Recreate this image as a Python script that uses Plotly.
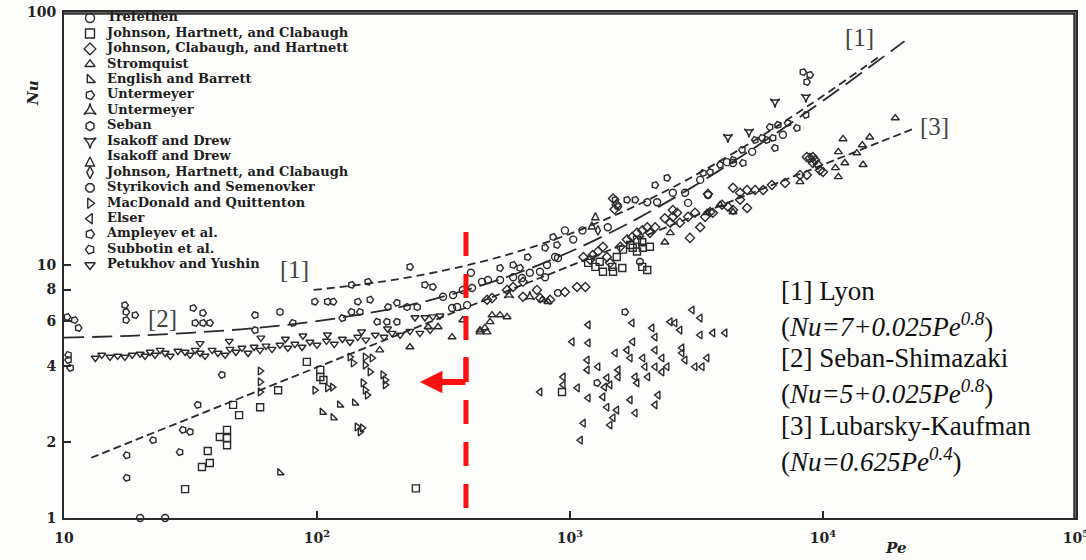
import math
import plotly.graph_objects as go

# ---------------- data (Pe, Nu) ----------------
TREFETHEN_PE = [20.0, 25.1, 358, 342, 392, 406, 449, 474, 529, 596, 646, 694, 761, 811, 797, 873, 896, 955,
                1030, 1120, 1410, 2020, 2210, 2550, 2850, 2930, 3270, 3510, 4170, 4410, 5250, 315, 345, 377, 410, 6940]
TREFETHEN_NU = [1.0, 1.0, 6.82, 6.76, 6.94, 9.32, 8.58, 8.73, 8.73, 8.95, 8.88, 9.32, 9.40, 10.0, 8.95, 10.75, 10.66, 13.7,
                12.6, 13.7, 14.1, 17.7, 17.7, 19.3, 19.3, 17.6, 21.7, 18.9, 25.5, 25.3, 28.0, 7.49, 7.61, 7.97, 8.11, 32.7]

JHC_PE = [30.1, 37.0, 35.1, 37.7, 41.3, 44.1, 44.1, 44.1, 46.6, 49.2, 59.6, 70.2, 103, 246, 91.2, 103, 106, 1180,
          1260, 1310, 1350, 1480, 1470, 1530, 1610, 1840, 1930, 2020, 1940, 2070, 1930, 1840, 1730, 1620, 1770, 930]
JHC_NU = [1.30, 1.84, 1.59, 1.65, 2.09, 2.23, 2.07, 1.94, 2.80, 2.55, 2.74, 3.20, 3.61, 1.31, 4.14, 3.85, 3.51, 10.2,
          9.83, 10.3, 9.40, 9.40, 9.83, 10.75, 9.73, 11.3, 9.83, 9.55, 11.7, 11.8, 12.3, 12.6, 12.0, 11.5, 11.7, 3.15]

JCH_PE = [1230, 1290, 1350, 1200, 1130, 1400, 1440, 1580, 1680, 1760, 1840, 1930, 2020, 2070, 2170, 2370, 2490, 2550,
          2650, 2720, 2550, 2930, 3120, 3420, 3580, 3670, 3990, 4210, 4410, 4700, 5010, 2980, 3270, 3510, 4410, 4700,
          5010, 5390, 5800, 6280, 7080, 8110, 8630, 8880, 9300, 8630, 9120, 9120, 9550, 9730, 10000, 470, 492, 596,
          652, 564, 652, 740, 834, 762, 955, 1066, 1150, 1480, 1530, 1500]
JCH_NU = [10.95, 11.3, 11.8, 10.5, 10.75, 10.75, 10.2, 11.8, 12.6, 12.9, 13.4, 13.7, 14.1, 13.4, 14.1, 15.3, 14.7, 15.5,
          16.1, 14.7, 16.5, 15.5, 16.1, 15.5, 16.2, 16.1, 17.3, 17.0, 16.5, 18.1, 16.8, 12.8, 14.1, 19.1, 20.2, 19.3,
          19.8, 19.8, 19.8, 20.7, 21.1, 22.7, 22.7, 26.5, 26.0, 26.7, 26.7, 25.3, 24.9, 23.7, 23.3, 7.29, 7.40, 8.19,
          8.58, 7.97, 7.49, 7.97, 7.29, 7.40, 7.82, 8.19, 8.19, 18.3, 17.3, 16.6]

STROMQUIST_PE = [233, 342, 377, 177, 301, 275, 441, 461, 483, 492, 819, 776, 529, 564, 441, 470, 2370, 2490, 12000,
                 11500, 11200, 12200, 11500, 13600, 14300, 15300, 14400, 19300, 8110, 4410, 3920, 3480]
STROMQUIST_NU = [4.74, 5.19, 6.06, 4.61, 5.69, 5.69, 5.53, 5.64, 5.96, 6.34, 7.16, 7.29, 6.34, 6.23, 5.43, 5.43, 12.3,
                 13.4, 31.5, 28.0, 24.2, 25.3, 22.3, 27.7, 29.8, 32.0, 24.9, 38.1, 21.3, 16.2, 17.3, 16.1]

ENGLISH_PE = [71.4, 141, 123, 105, 116]
ENGLISH_NU = [1.51, 2.85, 2.80, 2.62, 2.49]

UNTERMEYER_D_PE = [233, 137, 159, 267, 287, 529, 596, 634, 680, 797, 857, 888, 1510, 1550, 1680, 1810, 2170, 2420,
                   8340, 8880, 8630, 1650, 1280]
UNTERMEYER_D_NU = [9.83, 8.35, 8.58, 8.35, 8.19, 9.73, 10.0, 9.73, 10.75, 11.7, 12.9, 12.0, 18.1, 17.0, 18.1, 18.1,
                   20.7, 22.1, 57.9, 56.4, 52.9, 6.52, 3.42]

UNTERMEYER_T_PE = [574, 694]
UNTERMEYER_T_NU = [7.61, 7.49]

SEBAN_PE = [71.4, 227, 249]
SEBAN_NU = [6.52, 6.82, 6.82]

ISAKOFF_V_PE = [4210, 5100, 6460, 8560]
ISAKOFF_V_NU = [32.0, 33.6, 44.1, 46.1]

ISAKOFF_A_PE = [1220, 1260]
ISAKOFF_A_NU = [14.8, 16.1]

JHC2_PE = [1290]
JHC2_NU = [13.7]

STYRIKOVICH_PE = [896, 1890]
STYRIKOVICH_NU = [7.76, 10.3]

MACDONALD_PE = [59.6, 59.6, 59.6, 98, 135, 139, 155, 165, 155, 162, 182, 186, 186, 152, 155, 158, 144, 148, 151, 110, 115]
MACDONALD_NU = [3.81, 3.45, 3.15, 3.20, 4.33, 4.10, 4.33, 4.29, 4.02, 3.78, 3.68, 3.51, 3.36, 3.42, 3.20, 3.06, 2.29,
                2.19, 2.27, 3.27, 3.29]

ELSER_PE = [1180, 1020, 1180, 1760, 2110, 2170, 2490, 2600, 2720, 3040, 3270, 3270, 3670, 4100, 1770, 1680, 1510, 2170,
            2770, 2770, 2850, 3120, 3330, 3480, 1940, 1980, 2170, 2310, 2420, 2310, 2030, 1730, 1170, 1170, 1290, 1550,
            1550, 1400, 1810, 1840, 940, 940, 1070, 1370, 1440, 1350, 1180, 1730, 2230, 2170, 1400, 1530, 1810, 1480,
            1440, 1130, 1100, 761]
ELSER_NU = [5.80, 4.97, 4.92, 5.90, 5.64, 5.19, 5.96, 5.90, 5.53, 6.64, 6.17, 5.29, 5.39, 5.39, 4.97, 4.61, 4.49, 4.61,
            4.70, 4.49, 4.21, 3.96, 3.96, 4.29, 4.29, 3.96, 3.96, 4.29, 3.96, 3.78, 3.61, 4.29, 4.21, 3.85, 3.96, 3.85,
            3.61, 3.58, 3.61, 3.42, 3.61, 3.36, 3.27, 3.29, 3.36, 3.01, 2.98, 2.93, 3.06, 2.80, 2.74, 2.67, 2.60, 2.49,
            2.33, 2.37, 2.03, 3.15]

AMPLEYEV_PE = [10.3, 11.0, 11.4, 17.4, 17.6, 17.6, 19.1, 32.4, 35.4, 33.0, 35.4, 37.7, 98, 110, 116, 145, 162]
AMPLEYEV_NU = [6.23, 6.06, 5.64, 6.94, 6.52, 6.06, 6.34, 6.76, 6.46, 5.9, 5.9, 5.9, 7.16, 7.16, 7.16, 7.16, 7.29]

SUBBOTIN_PE = [10.4, 10.4, 10.6, 17.7, 17.7, 22.5, 29.5, 31.5, 28.7, 42.1, 33.8, 56.9, 56.9, 80.3, 137, 148, 191, 207,
               126, 173, 189, 207, 3920, 3580, 3360, 4410, 4790, 5390, 5740, 6000, 6340, 6170, 6640, 7260, 7890, 6460,
               4830, 8560]
SUBBOTIN_NU = [4.41, 4.21, 3.92, 1.77, 1.44, 2.03, 2.23, 2.19, 1.82, 3.68, 2.80, 6.34, 5.53, 5.9, 6.52, 6.52, 6.82, 7.09,
               6.17, 5.96, 5.96, 5.96, 24.9, 23.3, 23.1, 26.0, 28.5, 31.2, 31.8, 31.2, 31.8, 35.1, 35.8, 36.4, 34.8, 29.0,
               25.3, 39.2]

PETUKHOV_PE = [13.3, 14.1, 15.2, 16.3, 17.4, 18.6, 20.0, 20.9, 21.9, 22.9, 24.0, 25.1, 26.3, 28.2, 30.1, 31.5, 33.0,
               34.5, 36.1, 38.5, 40.6, 43.3, 45.3, 47.8, 50.5, 53.4, 56.4, 59.5, 62.9, 66.4, 71.4, 76.7, 81.8, 87.3,
               93.8, 100, 109, 117, 126, 135, 145, 156, 170, 184, 198, 213, 233, 255, 280, 34.5, 45, 60, 75, 88, 110,
               150, 190, 244, 267, 287, 306]
PETUKHOV_NU = [4.29, 4.41, 4.33, 4.37, 4.33, 4.41, 4.45, 4.37, 4.53, 4.41, 4.61, 4.49, 4.37, 4.57, 4.53, 4.41, 4.61,
               4.49, 4.37, 4.61, 4.49, 4.41, 4.65, 4.53, 4.70, 4.49, 4.74, 4.61, 4.79, 4.65, 4.83, 4.70, 4.87, 4.74,
               4.96, 4.83, 5.01, 4.87, 5.10, 4.96, 5.19, 5.06, 5.29, 5.19, 5.38, 5.29, 5.48, 5.38, 5.53, 4.9, 5.0,
               5.15, 5.1, 5.25, 5.3, 5.45, 5.6, 6.2, 6.2, 6.25, 6.3]

# correlation curves
LYON_PE = [97, 150, 200, 300, 500, 700, 1000, 1500, 2000, 3000, 5000, 7000, 10000, 16500]
LYON_NU = [7.97, 8.38, 8.73, 9.40, 10.61, 11.72, 13.28, 15.70, 17.93, 22.13, 29.78, 36.8, 46.62, 66.1]
SEBAN_SHIMAZAKI_PE = [10, 20, 50, 100, 200, 300, 500, 700, 1000, 1500, 2000, 3000, 5000, 7000, 10000, 15000, 21000]
SEBAN_SHIMAZAKI_NU = [5.16, 5.27, 5.57, 6.00, 6.73, 7.40, 8.61, 9.72, 11.28, 13.69, 15.94, 20.13, 27.76, 34.8, 44.6,
                      59.8, 76.7]
LUBARSKY_PE = [12.8, 50, 200, 1000, 5000, 22500]
LUBARSKY_NU = [1.73, 2.99, 5.20, 9.91, 18.9, 34.4]

# red marker line (Pe position) and arrow
RED_PE = 388
RED_NU_TOP = 13.5
RED_NU_BOTTOM = 1.095
ARROW_TIP_PE = 255
ARROW_NU = 3.45
ARROW_L_TOP_NU = 4.33

X_TICKS = [10, 100, 1000, 10000, 100000]
X_TICKTEXT = ["10", "10<sup>2</sup>", "10<sup>3</sup>", "10<sup>4</sup>", "10<sup>5</sup>"]
Y_TICKS = [1, 2, 4, 6, 8, 10, 100]
Y_TICKTEXT = ["1", "2", "4", "6", "8", "10", "100"]

LEGEND_NAMES = ["Trefethen", "Johnson, Hartnett, and Clabaugh", "Johnson, Clabaugh, and Hartnett", "Stromquist",
                "English and Barrett", "Untermeyer", "Untermeyer", "Seban", "Isakoff and Drew", "Isakoff and Drew",
                "Johnson, Hartnett, and Clabaugh", "Styrikovich and Semenovker", "MacDonald and Quittenton",
                "Elser", "Ampleyev et al.", "Subbotin et al.", "Petukhov and Yushin"]

# ---------------- styling ----------------
INK = "#2a2a2a"
SERIES = [
    (TREFETHEN_PE, TREFETHEN_NU, "circle-open", 0),
    (JHC_PE, JHC_NU, "square-open", 0),
    (JCH_PE, JCH_NU, "diamond-open", 0),
    (STROMQUIST_PE, STROMQUIST_NU, "triangle-up-open", 0),
    (ENGLISH_PE, ENGLISH_NU, "triangle-sw-open", 0),
    (UNTERMEYER_D_PE, UNTERMEYER_D_NU, "pentagon-open", 90),
    (UNTERMEYER_T_PE, UNTERMEYER_T_NU, "star-triangle-up-open", 0),
    (SEBAN_PE, SEBAN_NU, "hexagon-open", 0),
    (ISAKOFF_V_PE, ISAKOFF_V_NU, "star-triangle-down-open", 0),
    (ISAKOFF_A_PE, ISAKOFF_A_NU, "arrow-up-open", 0),
    (JHC2_PE, JHC2_NU, "diamond-tall-open", 0),
    (STYRIKOVICH_PE, STYRIKOVICH_NU, "octagon-open", 0),
    (MACDONALD_PE, MACDONALD_NU, "triangle-right-open", 0),
    (ELSER_PE, ELSER_NU, "triangle-left-open", 0),
    (AMPLEYEV_PE, AMPLEYEV_NU, "pentagon-open", 90),
    (SUBBOTIN_PE, SUBBOTIN_NU, "pentagon-open", -90),
    (PETUKHOV_PE, PETUKHOV_NU, "triangle-down-open", 0),
]

W, H = 1086, 560
L, R, T, B = 64, 10, 12, 42
PW, PH = W - L - R, H - T - B
X_LOG0, X_DECADES = 1, 4
Y_LOG0, Y_DECADES = 0, 2


def paper(px, py):
    return (px - L) / PW, (H - B - py) / PH


def px_to_pe(px):
    return 10 ** (X_LOG0 + X_DECADES * (px - L) / PW)


def py_to_nu(py):
    return 10 ** (Y_LOG0 + Y_DECADES * (H - B - py) / PH)


fig = go.Figure()

for pe, nu, sym, ang in SERIES:
    fig.add_trace(go.Scatter(
        x=pe, y=nu, mode="markers", showlegend=False, cliponaxis=False, hoverinfo="skip",
        marker=dict(symbol=sym, angle=ang, size=7, color=INK, line=dict(color=INK, width=1.4)),
    ))

fig.add_trace(go.Scatter(x=LYON_PE, y=LYON_NU, mode="lines", showlegend=False, hoverinfo="skip",
                         line=dict(color=INK, width=1.8, dash="8px,5px", shape="spline")))
fig.add_trace(go.Scatter(x=SEBAN_SHIMAZAKI_PE, y=SEBAN_SHIMAZAKI_NU, mode="lines", showlegend=False,
                         hoverinfo="skip", line=dict(color=INK, width=1.8, dash="20px,8px", shape="spline")))
fig.add_trace(go.Scatter(x=LUBARSKY_PE, y=LUBARSKY_NU, mode="lines", showlegend=False, hoverinfo="skip",
                         line=dict(color=INK, width=1.8, dash="8px,4px")))

RED = "#ff1010"
fig.add_trace(go.Scatter(x=[RED_PE, RED_PE], y=[RED_NU_TOP, RED_NU_BOTTOM], mode="lines", showlegend=False,
                         hoverinfo="skip", line=dict(color=RED, width=5, dash="24px,18px")))
fig.add_trace(go.Scatter(x=[RED_PE, RED_PE], y=[ARROW_L_TOP_NU, ARROW_NU], mode="lines", showlegend=False,
                         hoverinfo="skip", line=dict(color=RED, width=5)))

# frame: top and right edges, drawn just inside the plot area
frame_x = [px_to_pe(L), px_to_pe(W - R - 1.5), px_to_pe(W - R - 1.5)]
frame_y = [py_to_nu(T + 1.5), py_to_nu(T + 1.5), py_to_nu(H - B)]
fig.add_trace(go.Scatter(x=frame_x, y=frame_y, mode="lines", showlegend=False, hoverinfo="skip",
                         line=dict(color="#333333", width=2.5)))

# legend key drawn inside the plot area (layout positions given in page pixels)
key_py = [18 + 15.44 * i for i in range(len(LEGEND_NAMES))]
key_nu = [py_to_nu(v) for v in key_py]
fig.add_trace(go.Scatter(
    x=[px_to_pe(90)] * len(LEGEND_NAMES), y=key_nu, mode="markers", showlegend=False,
    hoverinfo="skip", cliponaxis=False,
    marker=dict(symbol=[s[2] for s in SERIES], angle=[s[3] for s in SERIES], size=9, color=INK,
                line=dict(color=INK, width=1.4)),
))
fig.add_trace(go.Scatter(
    x=[px_to_pe(107)] * len(LEGEND_NAMES), y=key_nu, mode="text", showlegend=False,
    hoverinfo="skip", cliponaxis=False, text=LEGEND_NAMES, textposition="middle right",
    textfont=dict(family="DejaVu Serif", size=13, color="#1e1e1e", weight="bold"),
))

annotations = []
# red arrow
annotations.append(dict(x=math.log10(ARROW_TIP_PE), y=math.log10(ARROW_NU), xref="x", yref="y",
                        ax=math.log10(RED_PE) + 0.004, ay=math.log10(ARROW_NU), axref="x", ayref="y",
                        text="", showarrow=True, arrowhead=2, arrowsize=0.75, arrowwidth=6, arrowcolor=RED,
                        standoff=0, startstandoff=0))

# axis titles
nx, ny = paper(33, 93)
annotations.append(dict(x=nx, y=ny, xref="paper", yref="paper", text="<b><i>Nu</i></b>", textangle=-90,
                        xanchor="center", yanchor="middle", showarrow=False,
                        font=dict(family="DejaVu Serif", size=15, color="#222")))
px_, py_ = paper(895, 548)
annotations.append(dict(x=px_, y=py_, xref="paper", yref="paper", text="<b><i>Pe</i></b>",
                        xanchor="center", yanchor="middle", showarrow=False,
                        font=dict(family="DejaVu Serif", size=15, color="#222")))

# curve labels
for lbl, lx, ly in [("[1]", 859, 37), ("[3]", 934, 126), ("[1]", 294, 269), ("[2]", 162, 318)]:
    ax_, ay_ = paper(lx, ly)
    annotations.append(dict(x=ax_, y=ay_, xref="paper", yref="paper", text=lbl, showarrow=False,
                            xanchor="center", yanchor="middle",
                            font=dict(family="Liberation Serif", size=25, color="#444")))

# formula box
BOX_LINES = [
    ("[1] Lyon", 291),
    ("(<i>Nu=7+0.025Pe<sup>0.8</sup></i>)", 325),
    ("[2] Seban-Shimazaki", 358),
    ("(<i>Nu=5+0.025Pe<sup>0.8</sup></i>)", 392),
    ("[3] Lubarsky-Kaufman", 426),
    ("(<i>Nu=0.625Pe<sup>0.4</sup></i>)", 460),
]
for txt, ly in BOX_LINES:
    bx, by = paper(779, ly)
    annotations.append(dict(x=bx, y=by, xref="paper", yref="paper", text=txt, showarrow=False,
                            xanchor="left", yanchor="middle",
                            font=dict(family="Liberation Serif", size=27, color="#111")))

axis_common = dict(type="log", showline=True, linecolor=INK, linewidth=1.8, mirror=True, showgrid=False,
                   zeroline=False, ticks="inside", ticklen=7, tickwidth=1.6, tickcolor=INK, automargin=False,
                   ticklabeloverflow="allow",
                   tickfont=dict(family="DejaVu Serif", size=14, color="#222", weight="bold"))

fig.update_layout(
    width=W, height=H, autosize=False,
    margin=dict(l=L, r=R, t=T, b=B),
    paper_bgcolor="#fdfdfb", plot_bgcolor="#fdfdfb",
    xaxis=dict(range=[1, 5.00002], tickvals=X_TICKS, ticktext=X_TICKTEXT, ticklabelstandoff=6, **axis_common),
    yaxis=dict(range=[0, 2.00002], tickvals=Y_TICKS, ticktext=Y_TICKTEXT, ticklabelstandoff=3, **axis_common),
    annotations=annotations,
    showlegend=False,
)

fig.write_html("out.html", config={"displayModeBar": False},
               post_script="document.body.style.margin='0';document.body.style.overflow='hidden';")
